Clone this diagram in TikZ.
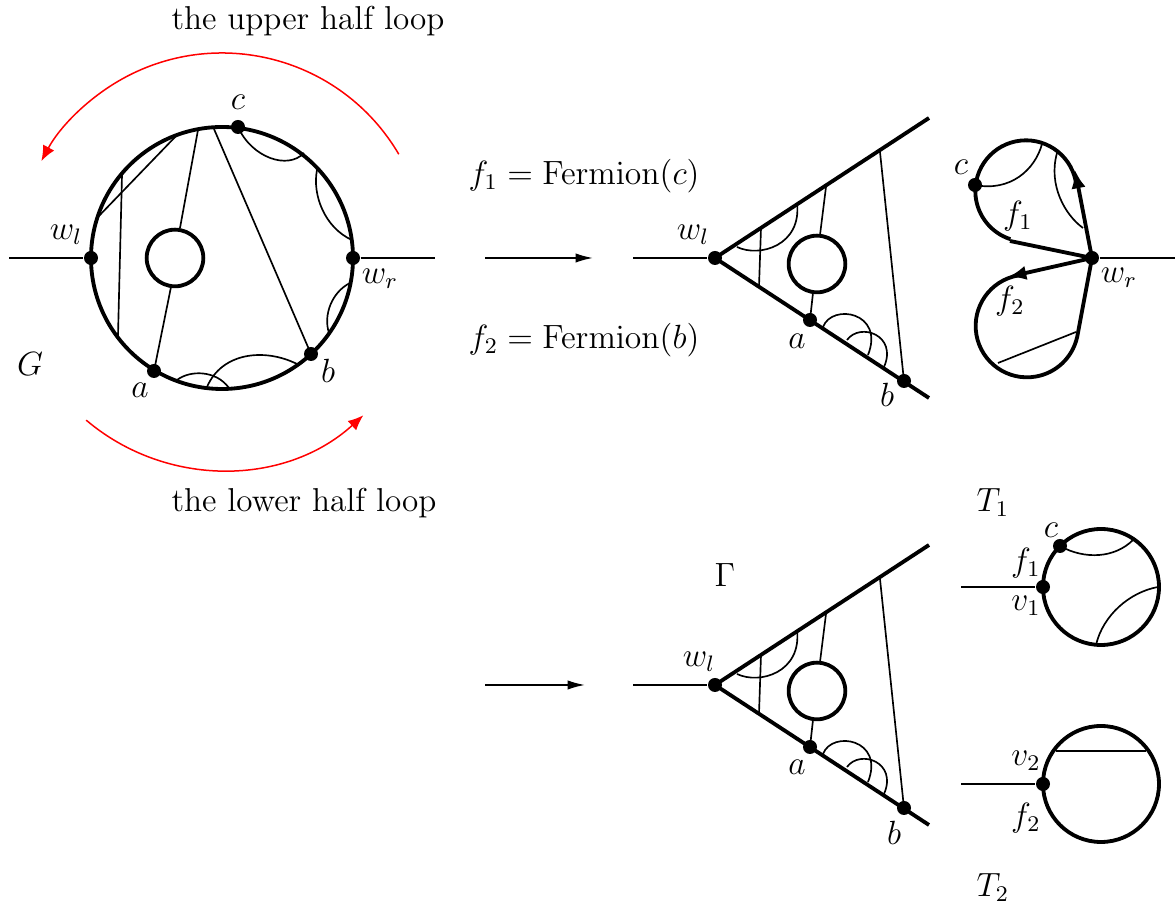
\documentclass[tikz,border=0pt]{standalone}
\usetikzlibrary{arrows.meta}
\tikzset{
  thin line/.style={line width=0.5pt},
  thick line/.style={line width=1.15pt},
  red line/.style={line width=0.45pt,red,-{Latex[length=4.6pt,width=3.8pt]}},
  fl arrow/.style={thick line,-{Latex[length=5.5pt,width=4.3pt]}},
  map arrow/.style={thin line,-{Latex[length=5.2pt,width=2.8pt]}},
  dotnode/.style={circle,fill=black,inner sep=0pt,minimum size=4.2pt},
  ringnode/.style={circle,draw,thick line,inner sep=0pt,minimum size=17pt},
  bigring/.style={circle,draw,thick line,inner sep=0pt,minimum size=#1},
  lab/.style={inner sep=0pt,scale=0.84,transform shape,font=\fontsize{12}{14}\selectfont},
  wordlab/.style={inner sep=0pt,scale=0.828,transform shape,font=\fontsize{12}{14}\selectfont}
}
\newcommand{\wedgefig}[2]{%
  \begin{scope}[shift={(0,#2)}]
    \coordinate (#1in) at (633,258);
    \coordinate (#1up) at (929,118);
    \coordinate (#1dn) at (929,398);
    \node[dotnode] (#1wl) at (715,258) {};
    \node[dotnode] (#1a) at (810,320) {};
    \node[dotnode] (#1b) at (904,381) {};
    \node[ringnode] (#1r) at (817,264) {};
    \draw[thin line] (#1in) -- (#1wl);
    \draw[thick line] (#1wl.center) -- (#1up);
    \draw[thick line] (#1wl.center) -- (#1dn);
    \coordinate (#1p1) at (880,152);
    \coordinate (#1p2) at (826,187);
    \coordinate (#1p3) at (820,235);
    \coordinate (#1p4) at (813,293);
    \coordinate (#1p5) at (761,228);
    \coordinate (#1p6) at (759,287);
    \coordinate (#1q1) at (737,247);
    \coordinate (#1q2) at (797,203);
    \coordinate (#1q3) at (823,327);
    \coordinate (#1q4) at (868,355);
    \coordinate (#1q5) at (847,340);
    \coordinate (#1q6) at (884,367);
    \draw[thin line] (#1p1) -- (#1b.center);
    \draw[thin line] (#1p2) -- (#1p3);
    \draw[thin line] (#1p4) -- (#1a.center);
    \draw[thin line] (#1p5) -- (#1p6);
    \draw[thin line] (#1q1) .. controls (760,258) and (802,245) .. (#1q2);
    \draw[thin line] (#1q3) .. controls (832,303) and (885,312) .. (#1q4);
    \draw[thin line] (#1q5) .. controls (860,322) and (898,335) .. (#1q6);
  \end{scope}}
\begin{document}
\begin{tikzpicture}[x=0.3pt,y=-0.3pt]
\useasboundingbox (0,0) rectangle (1175,909);
% left diagram
\node[bigring=78.6pt] (G) at (222,258) {};
\node[ringnode] (Gr) at (175,258) {};
\node[dotnode] (wl) at (91,258) {};
\node[dotnode] (wr) at (353,258) {};
\node[dotnode] (c) at (238,127) {};
\node[dotnode] (a) at (154,371) {};
\node[dotnode] (b) at (311,354) {};
\coordinate (inL) at (9,258);
\coordinate (outR) at (435,258);
\draw[thin line] (inL) -- (wl);
\draw[thin line] (wr) -- (outR);
\coordinate (g1) at (97,218);
\coordinate (g2) at (178,134);
\coordinate (g3) at (122,175);
\coordinate (g4) at (118,336);
\coordinate (g5) at (198,130);
\coordinate (g6) at (180,228);
\coordinate (g7) at (171,287);
\coordinate (g8) at (214,129);
\coordinate (g9) at (304,153);
\coordinate (g10) at (317,170);
\coordinate (g11) at (352,240);
\coordinate (g12) at (350,283);
\coordinate (g13) at (329,333);
\coordinate (g14) at (177,380);
\coordinate (g15) at (229,388);
\coordinate (g16) at (207,387);
\coordinate (g17) at (297,364);
\draw[thin line] (g1) -- (g2);
\draw[thin line] (g3) -- (g4);
\draw[thin line] (g5) -- (g6);
\draw[thin line] (g7) -- (a.center);
\draw[thin line] (g8) -- (b.center);
\draw[thin line] (c.center) .. controls (252,158) and (288,170) .. (g9);
\draw[thin line] (g10) .. controls (312,195) and (325,228) .. (g11);
\draw[thin line] (g12) .. controls (332,292) and (323,315) .. (g13);
\draw[thin line] (g14) .. controls (190,370) and (216,370) .. (g15);
\draw[thin line] (g16) .. controls (222,352) and (265,348) .. (g17);
% red arcs
\coordinate (ru) at (222,258);
\coordinate (rd) at (222,260);
\draw[red line] ([shift={(30.4:61.5pt)}]ru) arc[start angle=30.4,end angle=151.8,radius=61.5pt];
\draw[red line] ([shift={(229.7:63pt)}]rd) arc[start angle=229.7,end angle=312.3,radius=63pt];
% labels left
\node[wordlab] at (308,21) {the upper half loop};
\node[wordlab] at (304,503) {the lower half loop};
\node[lab] at (66,235) {$w_l$};
\node[lab] at (380,279) {$w_r$};
\node[lab] at (238,102) {$c$};
\node[lab] at (140,390) {$a$};
\node[lab] at (328,371) {$b$};
\node[lab] at (30,364) {$G$};
\node[lab] at (584,176) {$f_1=\mathrm{Fermion}(c)$};
\node[lab] at (584,340) {$f_2=\mathrm{Fermion}(b)$};
% map arrows
\coordinate (m1) at (485,258);
\coordinate (m2) at (593,258);
\coordinate (m3) at (485,685);
\coordinate (m4) at (585,685);
\draw[map arrow] (m1) -- (m2);
\draw[map arrow] (m3) -- (m4);
% wedges
\wedgefig{A}{0}
\wedgefig{B}{427}
\node[lab] at (693,235) {$w_l$};
\node[lab] at (797,341) {$a$};
\node[lab] at (887,395) {$b$};
\node[lab] at (699,662) {$w_l$};
\node[lab] at (797,767) {$a$};
\node[lab] at (894,833) {$b$};
\node[lab] at (725,575) {$\Gamma$};
% figure-eight
\node[dotnode] (Wr) at (1092,258) {};
\node[dotnode] (Lc) at (975,185) {};
\coordinate (Lo) at (1175,258);
\coordinate (LU) at (1026,191);
\coordinate (LD) at (1027,326);
\coordinate (Lu1) at (1010,241);
\coordinate (Lu2) at (1075,170);
\coordinate (Ld1) at (1008,277);
\coordinate (Ld2) at (1077,338);
\draw[thin line] (Wr) -- (Lo);
\draw[thick line] ([shift={(6:15.2pt)}]LU) arc[start angle=6,end angle=252,radius=15.2pt];
\draw[thick line] ([shift={(100:15.4pt)}]LD) arc[start angle=100,end angle=347,radius=15.4pt];
\draw[thick line] (Wr.center) -- (Lu1);
\draw[thick line] (Wr.center) -- (Ld2);
\draw[fl arrow] (Wr.center) -- (Lu2);
\draw[fl arrow] (Wr.center) -- (Ld1);
\coordinate (L1) at (1042,144);
\coordinate (L2) at (1057,153);
\coordinate (L3) at (1083,228);
\coordinate (L4) at (998,363);
\coordinate (L5) at (1076,332);
\draw[thin line] (Lc.center) .. controls (1010,192) and (1035,170) .. (L1);
\draw[thin line] (L2) .. controls (1048,185) and (1065,215) .. (L3);
\draw[thin line] (L4) -- (L5);
\node[lab] at (961,167) {$c$};
\node[lab] at (1018,216) {$f_1$};
\node[lab] at (1010,301) {$f_2$};
\node[lab] at (1119,278) {$w_r$};
% T1
\node[bigring=34.8pt] (T1) at (1101,587) {};
\node[dotnode] (Tc) at (1060,546) {};
\node[dotnode] (Tv1) at (1043,587) {};
\coordinate (T1in) at (961,587);
\coordinate (T1a) at (1133,540);
\coordinate (T1b) at (1096,645);
\coordinate (T1d) at (1158,587);
\draw[thin line] (T1in) -- (Tv1);
\draw[thin line] (Tc.center) .. controls (1085,560) and (1115,558) .. (T1a);
\draw[thin line] (T1b) .. controls (1103,615) and (1130,592) .. (T1d);
\node[lab] at (1051,530) {$c$};
\node[lab] at (1026,563) {$f_1$};
\node[lab] at (1026,606) {$v_1$};
\node[lab] at (993,503) {$T_1$};
% T2
\node[bigring=34.8pt] (T2) at (1101,784) {};
\node[dotnode] (Tv2) at (1043,784) {};
\coordinate (T2in) at (961,784);
\coordinate (T2a) at (1056,751);
\coordinate (T2b) at (1146,751);
\draw[thin line] (T2in) -- (Tv2);
\draw[thin line] (T2a) -- (T2b);
\node[lab] at (1026,761) {$v_2$};
\node[lab] at (1026,818) {$f_2$};
\node[lab] at (993,888) {$T_2$};
\end{tikzpicture}
\end{document}
